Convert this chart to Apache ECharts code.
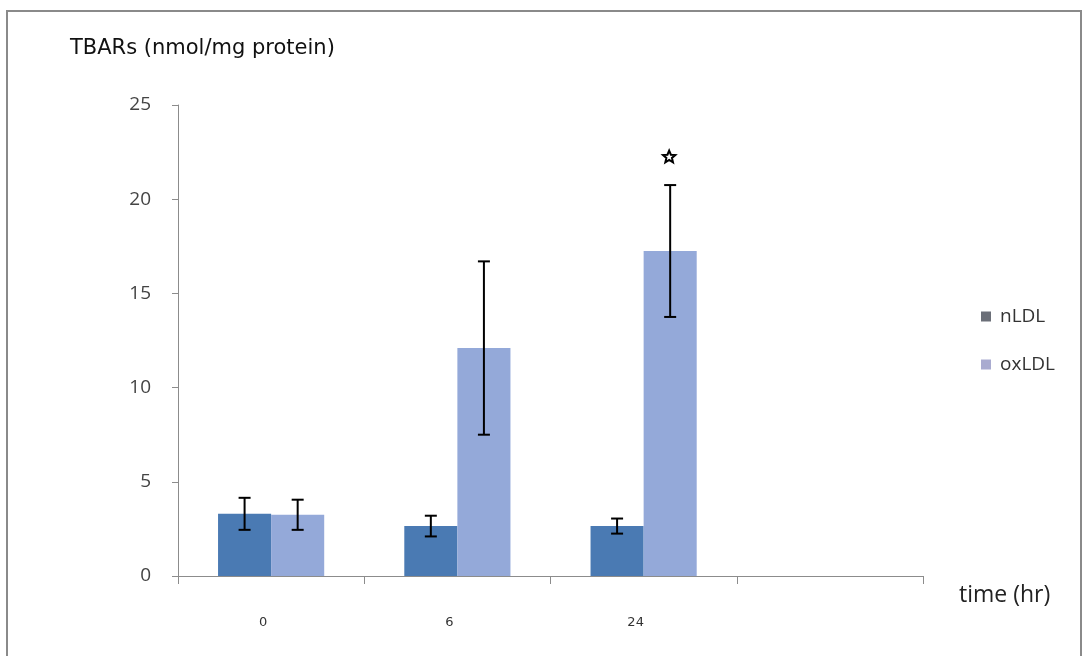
<!DOCTYPE html>
<html>
<head>
<meta charset="utf-8">
<script src="https://cdn.jsdelivr.net/npm/echarts@6/dist/echarts.min.js"></script>
<style>
  html, body { margin: 0; padding: 0; background: #fff; }
  #chart { width: 1084px; height: 656px; }
</style>
</head>
<body>
<div id="chart"></div>
<script>
// time points (hr); last slot is an empty category like the original
const categories = ['0', '6', '24', ''];
const nLDL = [3.3, 2.65, 2.65];
const oxLDL = [3.25, 12.1, 17.25];
const nLDLErr = [0.85, 0.55, 0.4];
const oxLDLErr = [0.8, 4.6, 3.5];
const oxSignificant = [false, false, true];
const yTicks = [0, 5, 10, 15, 20, 25];

const catGap = 0.43;

const errData = (vals, errs) => vals.map((v, i) => [i, v - errs[i], v + errs[i]]);

// five-point outline star around (cx, cy)
function starPoints(cx, cy, r) {
  const pts = [];
  for (let k = 0; k < 10; k++) {
    const rr = k % 2 === 0 ? r : r * 0.45;
    const a = -Math.PI / 2 + k * Math.PI / 5;
    pts.push([cx + rr * Math.cos(a), cy + rr * Math.sin(a)]);
  }
  return pts;
}

// draws the error bar for series on side -1 (left) or +1 (right) of the group
function makeErrRender(side, sig) {
  return function (params, api) {
    const band = api.size([1, 0])[0];
    const barW = band * (1 - catGap) / 2;
    const x = api.coord([api.value(0), 0])[0] + side * barW / 2;
    const lo = api.coord([api.value(0), api.value(1)])[1];
    const hi = api.coord([api.value(0), api.value(2)])[1];
    const cap = 6;
    const style = { stroke: '#000', lineWidth: 2 };
    const kids = [
      { type: 'line', shape: { x1: x, y1: lo, x2: x, y2: hi }, style },
      { type: 'line', shape: { x1: x - cap, y1: hi, x2: x + cap, y2: hi }, style },
      { type: 'line', shape: { x1: x - cap, y1: lo, x2: x + cap, y2: lo }, style }
    ];
    if (sig && sig[params.dataIndex]) {
      kids.push({
        type: 'polygon',
        shape: { points: starPoints(x - 1, hi - 28, 6.5) },
        style: { fill: '#fff', stroke: '#000', lineWidth: 2, lineJoin: 'miter' }
      });
    }
    return { type: 'group', children: kids };
  };
}

const chart = echarts.init(document.getElementById('chart'));

chart.setOption({
  animation: false,
  backgroundColor: '#fff',
  textStyle: { fontFamily: 'Liberation Sans' },
  graphic: [
    { type: 'rect', shape: { x: 7, y: 11, width: 1074, height: 700 },
      style: { fill: 'none', stroke: '#8a8a8a', lineWidth: 2 }, z: -1 },
    { type: 'text', left: 70, top: 38,
      style: { text: 'TBARs (nmol/mg protein)', fill: '#111', letterSpacing: 0.8,
               font: '21px "DejaVu Sans", sans-serif' } },
    { type: 'text', left: 959, top: 584,
      style: { text: 'time (hr)', fill: '#222',
               font: '23px "Open Sans", sans-serif' } }
  ],
  grid: { left: 178, right: 161, top: 105, bottom: 80 },
  legend: {
    orient: 'vertical',
    left: 976,
    top: 302,
    icon: 'rect',
    itemWidth: 10,
    itemHeight: 10,
    itemGap: 29,
    textStyle: { fontSize: 19, color: '#333', fontFamily: 'Open Sans', padding: [0, 0, 0, 4] },
    data: [
      { name: 'nLDL', itemStyle: { color: '#6b6f78' } },
      { name: 'oxLDL', itemStyle: { color: '#a9abd0' } }
    ]
  },
  xAxis: {
    type: 'category',
    data: categories,
    axisLine: { lineStyle: { color: '#8c8c8c', width: 1 } },
    axisTick: { show: true, alignWithLabel: false, length: 8, lineStyle: { color: '#8c8c8c' } },
    axisLabel: { margin: 40, fontSize: 13, color: '#333', fontFamily: 'DejaVu Sans',
                 padding: [0, 16, 0, 0] },
    splitLine: { show: false }
  },
  yAxis: {
    type: 'value',
    min: 0,
    max: 25,
    interval: 5,
    axisLine: { show: true, lineStyle: { color: '#8c8c8c', width: 1 } },
    axisTick: { show: true, length: 6, lineStyle: { color: '#8c8c8c' } },
    axisLabel: {
      margin: 27, fontSize: 19, color: '#444', fontFamily: 'Open Sans',
      formatter: v => (yTicks.includes(v) ? String(v) : '')
    },
    splitLine: { show: false }
  },
  series: [
    {
      name: 'nLDL', type: 'bar', data: nLDL,
      barGap: '0%', barCategoryGap: (catGap * 100) + '%',
      itemStyle: { color: '#4a7ab3' }
    },
    {
      name: 'oxLDL', type: 'bar', data: oxLDL,
      barGap: '0%', barCategoryGap: (catGap * 100) + '%',
      itemStyle: { color: '#94a9d9' }
    },
    {
      name: 'nLDL err', type: 'custom', data: errData(nLDL, nLDLErr),
      encode: { x: 0, y: [1, 2] }, z: 5,
      renderItem: makeErrRender(-1, null)
    },
    {
      name: 'oxLDL err', type: 'custom', data: errData(oxLDL, oxLDLErr),
      encode: { x: 0, y: [1, 2] }, z: 5,
      renderItem: makeErrRender(1, oxSignificant)
    }
  ]
});
</script>
</body>
</html>
